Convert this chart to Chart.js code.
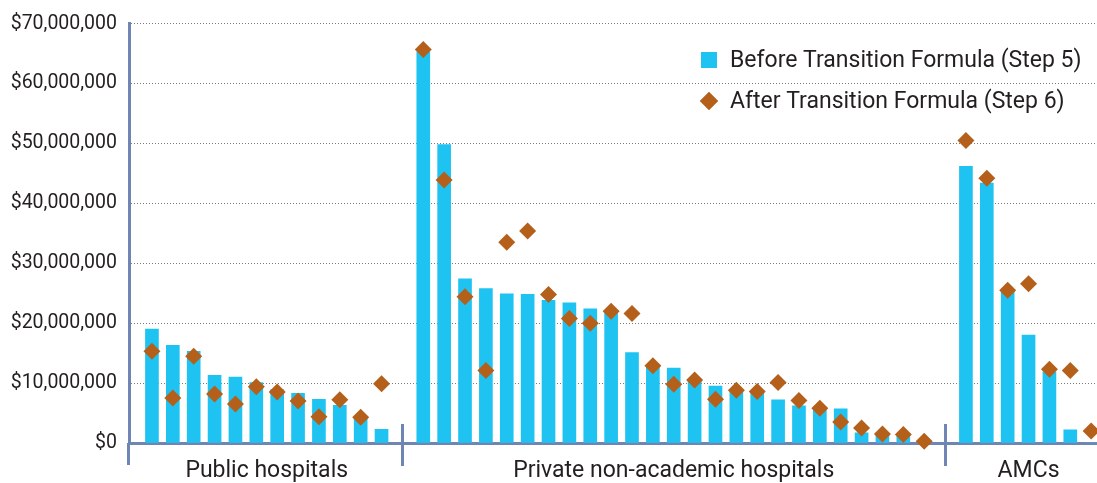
<!DOCTYPE html>
<html>
<head>
<meta charset="utf-8">
<title>Before / after transition formula</title>
<script src="https://cdn.jsdelivr.net/npm/chart.js@4.4.1/dist/chart.umd.min.js"></script>
<style>
  html, body { margin: 0; padding: 0; background: #fff; }
  #wrap { width: 1097px; height: 483px; position: relative; }
</style>
</head>
<body>
<div id="wrap"><canvas id="chartTransition"></canvas></div>
<script>
// values in millions of dollars
const groupNames = ['Public hospitals', 'Private non-academic hospitals', 'AMCs']
const beforePublic = [19.0, 16.3, 15.3, 11.3, 11.0, 10.1, 8.9, 8.3, 7.3, 6.3, 4.2, 2.3]
const afterPublic = [15.3, 7.5, 14.5, 8.2, 6.5, 9.4, 8.5, 7.0, 4.4, 7.2, 4.3, 9.9]
const beforePrivate = [65.3, 49.8, 27.4, 25.8, 24.9, 24.8, 23.8, 23.4, 22.4, 21.9, 15.1, 12.7, 12.5,
    10.3, 9.5, 8.9, 8.6, 7.2, 6.2, 6.0, 5.7, 1.7, 1.3, 1.1, 0]
const afterPrivate = [65.7, 43.9, 24.4, 12.1, 33.5, 35.4, 24.8, 20.8, 20.0, 22.0, 21.6, 12.9, 9.8,
    10.5, 7.3, 8.8, 8.6, 10.1, 7.1, 5.8, 3.5, 2.5, 1.5, 1.4, 0.3]
const beforeAMC = [46.2, 43.4, 25.2, 18.0, 11.9, 2.2, 0]
const afterAMC = [50.5, 44.2, 25.5, 26.6, 12.3, 12.1, 2.0]
const yTicks = [0, 10, 20, 30, 40, 50, 60, 70]
const legendLabels = ['Before Transition Formula (Step 5)', 'After Transition Formula (Step 6)']

const barColor = '#1fc3f2'
const diamondColor = '#b5601a'
const axisColor = '#6f86b5'
const textColor = '#231f20'

// one slot per hospital, one empty slot between groups
const groups = [
    { name: groupNames[0], before: beforePublic, after: afterPublic },
    { name: groupNames[1], before: beforePrivate, after: afterPrivate },
    { name: groupNames[2], before: beforeAMC, after: afterAMC }
]
let beforePoints = []
let afterPoints = []
let groupCenters = []
let separators = []
let slot = 0
groups.forEach((g, gi) => {
    if (gi > 0) {
        separators = [...separators, slot]
        slot++
    }
    groupCenters = [...groupCenters, slot + (g.before.length - 1) / 2]
    g.before.forEach((v, i) => {
        beforePoints = [...beforePoints, { x: slot + i, y: v * 1e6 }]
        afterPoints = [...afterPoints, { x: slot + i, y: g.after[i] * 1e6 }]
    })
    slot += g.before.length
})

const groupExtras = {
    id: 'groupExtras',
    afterDraw(chart) {
        const { ctx, chartArea } = chart
        const xScale = chart.scales.x
        ctx.save()
        ctx.strokeStyle = axisColor
        ctx.lineWidth = 3
        ctx.beginPath()
        // left axis runs down past the baseline
        ctx.moveTo(chartArea.left - 0.5, chartArea.bottom)
        ctx.lineTo(chartArea.left - 0.5, chartArea.bottom + 22)
        separators.forEach(s => {
            const px = Math.round(xScale.getPixelForValue(s)) + 0.5
            ctx.moveTo(px, chartArea.bottom - 19)
            ctx.lineTo(px, chartArea.bottom + 23)
        })
        ctx.stroke()

        // legend, inside the plot at top right
        const sets = [chart.data.datasets[1], chart.data.datasets[0]]
        const lx = 709
        const rows = [60, 101]
        ctx.font = '23px Roboto'
        ctx.textBaseline = 'middle'
        ctx.textAlign = 'left'
        sets.forEach((ds, i) => {
            const style = i === 0 ? 'rect' : 'rectRot'
            const color = i === 0 ? barColor : diamondColor
            ctx.fillStyle = color
            Chart.helpers.drawPoint(ctx, {
                pointStyle: style,
                radius: i === 0 ? 11.3 : 9,
                rotation: 0,
                borderWidth: 0
            }, lx, rows[i])
            ctx.fill()
            ctx.fillStyle = textColor
            ctx.fillText(ds.label, 730, rows[i] + 1)
        })
        ctx.restore()
    }
}

const canvasTransition = document.getElementById('chartTransition')
const contextTransition = canvasTransition.getContext('2d')
const chartTransition = new Chart(contextTransition, {
    type: 'bar',
    data: {
        datasets: [
            {
                type: 'line',
                label: legendLabels[1],
                data: afterPoints,
                showLine: false,
                pointStyle: 'rectRot',
                pointRadius: 8.5,
                pointBackgroundColor: diamondColor,
                pointBorderColor: diamondColor,
                pointBorderWidth: 0,
                clip: false,
                order: 0
            },
            {
                type: 'bar',
                label: legendLabels[0],
                data: beforePoints,
                backgroundColor: barColor,
                borderWidth: 0,
                barThickness: 13,
                order: 1
            }
        ]
    },
    options: {
        responsive: true,
        maintainAspectRatio: false,
        animation: false,
        layout: { autoPadding: false, padding: { top: 22, left: 0, right: 0, bottom: 0 } },
        plugins: {
            legend: { display: false },
            tooltip: { enabled: false }
        },
        scales: {
            x: {
                type: 'linear',
                offset: false,
                min: -1.1,
                max: 45.28,
                afterFit: scale => { scale.height = 40 },
                afterBuildTicks: scale => {
                    scale.ticks = groupCenters.map(v => ({ value: v }))
                },
                grid: { display: false, offset: false },
                border: { display: true, color: axisColor, width: 3 },
                ticks: {
                    autoSkip: false,
                    maxRotation: 0,
                    padding: 6,
                    color: textColor,
                    font: { family: 'Roboto', size: 23 },
                    callback: value => {
                        const i = groupCenters.indexOf(value)
                        return i >= 0 ? groupNames[i] : ''
                    }
                }
            },
            y: {
                min: yTicks[0] * 1e6,
                max: yTicks[yTicks.length - 1] * 1e6,
                afterFit: scale => { scale.width = 129 },
                afterBuildTicks: scale => {
                    scale.ticks = yTicks.map(v => ({ value: v * 1e6 }))
                },
                grid: { color: '#7a7a7a', lineWidth: 1, drawTicks: false },
                border: { display: true, color: axisColor, width: 3, dash: [1, 2] },
                ticks: {
                    padding: 12,
                    color: textColor,
                    font: { family: 'Roboto', size: 19.5 },
                    callback: value => '$' + value.toLocaleString('en-US')
                }
            }
        }
    },
    plugins: [groupExtras]
})
</script>
</body>
</html>
